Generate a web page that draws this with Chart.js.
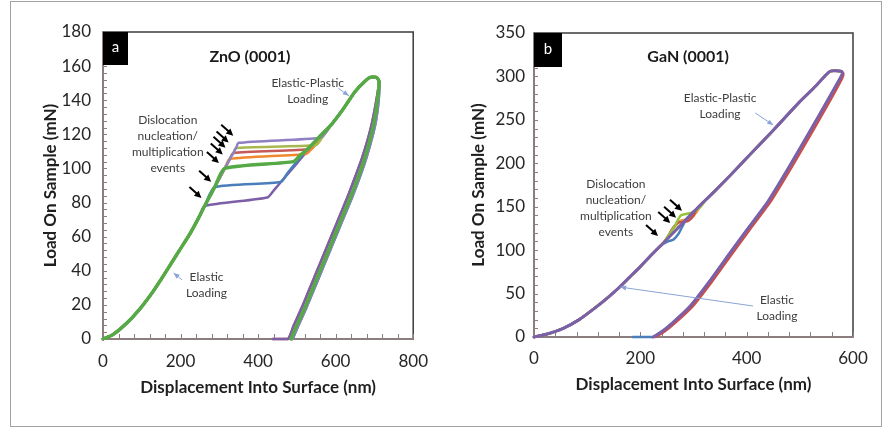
<!DOCTYPE html>
<html>
<head>
<meta charset="utf-8">
<title>Load-displacement curves, ZnO and GaN</title>
<script src="https://cdn.jsdelivr.net/npm/chart.js@4.4.1/dist/chart.umd.min.js"></script>
<style>
  body { margin: 0; background: #fff; }
  #page { position: relative; width: 891px; height: 429px; overflow: hidden; }
  #frame { position: absolute; left: 10px; top: 1px; width: 872px; height: 426px; border: 1px solid #a2a2a2; box-sizing: border-box; }
  .panel { position: absolute; top: 2px; height: 424px; }
  #panelA { left: 10px; width: 430px; }
  #panelB { left: 445px; width: 437px; }
</style>
</head>
<body>
<div id="page">
  <div id="frame"></div>
  <div class="panel" id="panelA"><canvas id="chartA"></canvas></div>
  <div class="panel" id="panelB"><canvas id="chartB"></canvas></div>
</div>
<script>
// ---------- ZnO (0001) ----------
const znXTicks = [0, 200, 400, 600, 800];
const znYTicks = [0, 20, 40, 60, 80, 100, 120, 140, 160, 180];
// shared elastic branch
const znElasticX = [0, 25, 50, 75, 100, 125, 150, 175, 200, 225, 250];
const znElasticY = [0, 2.5, 7, 12.5, 19, 26.5, 35, 44, 53, 62, 72.5];
// pop-in start and plateau end, one per test
const znPopX = [262, 288, 314, 327, 336, 343, 350];
const znPopY = [78, 89, 100, 105.5, 109, 112, 115];
const znPlateauX = [424, 458, 491, 523, 536, 549, 558];
const znPlateauY = [83, 92, 104, 108.5, 111.4, 113.7, 117.8];
// reloading until the elastic-plastic branch
const znReloadX = [[440, 470, 500, 530, 560], [475, 500, 530, 560], [510, 535, 560], [540, 565], [552, 572], [565, 578], [574]];
const znReloadY = [[87, 95, 103, 111, 118], [97, 104, 112, 119], [108, 113, 119], [112, 120], [115, 121], [118, 122], [121]];
const znPlasticX = [590, 620, 650, 675, 690, 705, 712];
const znPlasticY = [126, 135, 145, 151, 153.5, 153.5, 151];
const znUnloadX = [708, 700, 690, 675, 660, 640, 620, 600, 580, 560, 540, 520, 500, 485];
const znUnloadY = [140, 128, 118, 106, 96, 84, 73, 62, 51, 40, 29, 18, 8, 0];
const znUnloadLeftX = [705, 695, 684, 668, 652, 632, 612, 592, 572, 552, 532, 512, 492, 477, 438];
const znUnloadLeftY = [140, 128, 118, 106, 96, 84, 73, 62, 51, 40, 29, 18, 8, 0, 0];
const znUnloadRightX = [711, 704, 694, 679, 664, 644, 624, 604, 584, 564, 544, 524, 504, 489];
const znUnloadRightY = [140, 128, 118, 106, 96, 84, 73, 62, 51, 40, 29, 18, 8, 0];
const znArrowX = [259, 284, 304, 314, 321, 329, 341];
const znArrowY = [81.5, 91, 102, 107, 111, 114, 118];

// ---------- GaN (0001) ----------
const gnXTicks = [0, 200, 400, 600];
const gnYTicks = [0, 50, 100, 150, 200, 250, 300, 350];
const gnLoadX = [0, 25, 55, 85, 118, 140, 162, 180, 200, 220, 243, 270, 300, 340, 369, 400, 450, 500, 530, 557, 578];
const gnLoadY = [0, 3.5, 10, 20, 35, 46, 58, 69, 81, 94, 108, 125, 144, 168, 186, 206, 238, 271, 289, 306, 306];
const gnUnloadX = [580, 575, 550, 520, 480, 439, 400, 369, 330, 293, 260, 240, 224];
const gnUnloadY = [303, 297, 270, 238, 196, 155, 123, 97, 64, 35, 16, 6, 0];
const gnUnloadRedX = [582, 579, 555, 525, 485, 444, 405, 374, 335, 298, 265, 245, 229];
const gnUnloadRedY = [303, 297, 270, 238, 196, 155, 123, 97, 64, 35, 16, 6, 0];
const gnBlueLensX = [238, 252, 262, 272, 284];
const gnBlueLensY = [105, 110, 112, 119, 133];
const gnRedLensX = [250, 262, 272, 288, 300, 308];
const gnRedLensY = [114, 126, 132, 133, 140, 149];
const gnOrangeLensX = [250, 264, 276, 294, 306, 314];
const gnOrangeLensY = [113, 126, 134, 136, 144, 152];
const gnGreenLensX = [250, 265, 276, 296, 312, 322];
const gnGreenLensY = [114, 128, 140, 143, 149, 157];
const gnTailX = [186];
const gnTailY = [0];
const gnArrowX = [237, 260, 271, 282];
const gnArrowY = [114, 129, 135, 143];

const pts = (xs, ys) => xs.map((x, i) => ({ x, y: ys[i] }));
const FONT = 'Lato';

// ---------- ZnO datasets ----------
const znColors = ['#7D5FA8', '#4A7EBB', '#55AA46', '#F0892E', '#C65A57', '#A8B84E', '#8F80C4'];
const znUnloads = [
  pts(znUnloadLeftX, znUnloadLeftY), pts(znUnloadRightX, znUnloadRightY), pts(znUnloadX, znUnloadY),
  pts(znUnloadX, znUnloadY), pts(znUnloadLeftX, znUnloadLeftY), pts(znUnloadX, znUnloadY),
  pts(znUnloadRightX, znUnloadRightY)
];
const znDrawOrder = [5, 3, 0, 4, 6, 2, 1];
const znDatasets = znColors.map((color, k) => ({
  data: [
    ...pts(znElasticX, znElasticY),
    ...pts(znPopX.slice(0, k + 1), znPopY.slice(0, k + 1)),
    { x: znPlateauX[k], y: znPlateauY[k] },
    ...pts(znReloadX[k], znReloadY[k]),
    ...pts(znPlasticX, znPlasticY),
    ...znUnloads[k]
  ],
  borderColor: color,
  borderWidth: k === 2 ? 3.5 : 2.5,
  order: znDrawOrder[k]
}));

// ---------- GaN datasets ----------
function withLens(lx, ly) {
  const load = pts(gnLoadX, gnLoadY);
  return [
    ...load.filter(p => p.x < lx[0]),
    ...pts(lx, ly),
    ...load.filter(p => p.x > lx[lx.length - 1])
  ];
}
const gnDatasets = [
  { data: [...pts(gnLoadX, gnLoadY), ...pts(gnUnloadX, gnUnloadY)], borderColor: '#7B60A9', borderWidth: 3, order: 0 },
  { data: [...withLens(gnRedLensX, gnRedLensY), ...pts(gnUnloadRedX, gnUnloadRedY)], borderColor: '#C8504B', borderWidth: 2.5, order: 2 },
  { data: [...withLens(gnBlueLensX, gnBlueLensY), ...pts(gnUnloadX, gnUnloadY), ...pts(gnTailX, gnTailY)], borderColor: '#4A7EBB', borderWidth: 2.5, order: 3 },
  { data: withLens(gnOrangeLensX, gnOrangeLensY), borderColor: '#F39A3C', borderWidth: 2.5, order: 4 },
  { data: withLens(gnGreenLensX, gnGreenLensY), borderColor: '#94C43C', borderWidth: 2.5, order: 1 }
];

// ---------- decorations: frame, minor ticks, labels, arrows ----------
function arrowHead(ctx, x1, y1, x2, y2, len, half) {
  const a = Math.atan2(y2 - y1, x2 - x1);
  ctx.beginPath();
  ctx.moveTo(x2, y2);
  ctx.lineTo(x2 - len * Math.cos(a) + half * Math.sin(a), y2 - len * Math.sin(a) - half * Math.cos(a));
  ctx.lineTo(x2 - len * Math.cos(a) - half * Math.sin(a), y2 - len * Math.sin(a) + half * Math.cos(a));
  ctx.closePath();
  ctx.fill();
}

const panelDecor = {
  id: 'panelDecor',
  beforeDatasetsDraw(chart, args, o) {
    const { ctx, chartArea: a, scales: { x, y } } = chart;
    ctx.save();
    ctx.strokeStyle = '#3b3b3b';
    ctx.lineWidth = 1.5;
    ctx.strokeRect(a.left, a.top, a.right - a.left, a.bottom - a.top);
    ctx.strokeStyle = '#8c7e7e';
    ctx.lineWidth = 2;
    ctx.beginPath();
    ctx.moveTo(a.left, a.top);
    ctx.lineTo(a.left, a.bottom);
    ctx.lineTo(a.right, a.bottom);
    ctx.stroke();
    ctx.lineWidth = 1;
    ctx.beginPath();
    for (let v = x.min; v <= x.max; v += o.xMinor) {
      const px = Math.round(x.getPixelForValue(v)) + 0.5;
      ctx.moveTo(px, a.bottom);
      ctx.lineTo(px, a.bottom - 5);
    }
    for (let v = y.min; v <= y.max; v += o.yMinor) {
      const py = Math.round(y.getPixelForValue(v)) + 0.5;
      ctx.moveTo(a.left, py);
      ctx.lineTo(a.left + 4, py);
    }
    ctx.stroke();
    ctx.restore();
  },
  afterDatasetsDraw(chart, args, o) {
    const { ctx, chartArea: a, scales: { x, y } } = chart;
    ctx.save();
    // panel letter
    ctx.fillStyle = '#000';
    ctx.fillRect(a.left, a.top, o.boxW, o.boxH);
    ctx.fillStyle = '#fff';
    ctx.font = `15px ${FONT}`;
    ctx.textAlign = 'center';
    ctx.textBaseline = 'middle';
    ctx.fillText(o.letter, a.left + o.boxW / 2, a.top + o.boxH / 2 - 1);
    // title
    ctx.fillStyle = '#1a1a1a';
    ctx.font = `bold 16px ${FONT}`;
    ctx.fillText(o.title.text, x.getPixelForValue(o.title.x), y.getPixelForValue(o.title.y));
    // notes
    ctx.fillStyle = '#3d3d3d';
    ctx.font = `12px ${FONT}`;
    o.notes.forEach(n => {
      const px = x.getPixelForValue(n.x), py = y.getPixelForValue(n.y);
      n.lines.forEach((t, i) => ctx.fillText(t, px, py + i * 16));
    });
    // thin pointers
    ctx.strokeStyle = '#8aa4d6';
    ctx.fillStyle = '#8aa4d6';
    ctx.lineWidth = 1;
    o.pointers.forEach(p => {
      const x1 = x.getPixelForValue(p.from[0]), y1 = y.getPixelForValue(p.from[1]);
      const x2 = x.getPixelForValue(p.to[0]), y2 = y.getPixelForValue(p.to[1]);
      ctx.beginPath(); ctx.moveTo(x1, y1); ctx.lineTo(x2, y2); ctx.stroke();
      arrowHead(ctx, x1, y1, x2, y2, 6, 2.5);
    });
    // black event arrows
    ctx.strokeStyle = '#000';
    ctx.fillStyle = '#000';
    ctx.lineWidth = 2;
    o.arrowX.forEach((vx, i) => {
      const x2 = x.getPixelForValue(vx) - 2, y2 = y.getPixelForValue(o.arrowY[i]) - 2;
      const x1 = x2 - 12, y1 = y2 - 11;
      ctx.beginPath(); ctx.moveTo(x1, y1); ctx.lineTo(x2 - 3, y2 - 3); ctx.stroke();
      arrowHead(ctx, x1, y1, x2, y2, 7, 3.5);
    });
    ctx.restore();
  }
};

function makeChart(id, cfg) {
  const axisTitle = (text, pad) => ({ display: true, text, color: '#1f1f1f', font: { family: FONT, size: 17, weight: 'bold' }, padding: pad });
  return new Chart(document.getElementById(id), {
    type: 'line',
    data: { datasets: cfg.datasets },
    plugins: [panelDecor],
    options: {
      responsive: true,
      maintainAspectRatio: false,
      animation: false,
      events: [],
      layout: { padding: cfg.padding },
      elements: { point: { radius: 0 }, line: { tension: 0.2, fill: false, borderCapStyle: 'round', borderJoinStyle: 'round' } },
      datasets: { line: { clip: 8 } },
      plugins: {
        legend: { display: false },
        tooltip: { enabled: false },
        panelDecor: cfg.decor
      },
      scales: {
        x: {
          type: 'linear', min: cfg.xTicks[0], max: cfg.xTicks[cfg.xTicks.length - 1],
          afterBuildTicks: s => { s.ticks = cfg.xTicks.map(v => ({ value: v })); },
          afterFit: s => { s.height = cfg.xHeight; },
          grid: { display: false, drawTicks: false },
          border: { display: false },
          ticks: { color: '#262626', padding: cfg.xTickPad, font: { family: FONT, size: 17 } },
          title: axisTitle('Displacement Into Surface (nm)', { top: 0, bottom: cfg.xTitlePad })
        },
        y: {
          type: 'linear', min: cfg.yTicks[0], max: cfg.yTicks[cfg.yTicks.length - 1],
          afterBuildTicks: s => { s.ticks = cfg.yTicks.map(v => ({ value: v })); },
          afterFit: s => { s.width = cfg.yWidth; },
          grid: { display: false, drawTicks: false },
          border: { display: false },
          ticks: { color: '#262626', padding: cfg.yTickPad, font: { family: FONT, size: 17 } },
          title: axisTitle('Load On Sample (mN)', { top: cfg.yTitlePad, bottom: 0 })
        }
      }
    }
  });
}

makeChart('chartA', {
  datasets: znDatasets, xTicks: znXTicks, yTicks: znYTicks,
  padding: { top: 30, right: 16, bottom: 0, left: 0 },
  xHeight: 87, yWidth: 93, xTickPad: 12, yTickPad: 12, xTitlePad: 28, yTitlePad: 30,
  decor: {
    xMinor: 40, yMinor: 4, letter: 'a', boxW: 25, boxH: 33,
    title: { text: 'ZnO (0001)', x: 379, y: 165.3 },
    notes: [
      { x: 167, y: 128.4, lines: ['Dislocation', 'nucleation/', 'multiplication', 'events'] },
      { x: 528, y: 150, lines: ['Elastic-Plastic', 'Loading'] },
      { x: 267, y: 36.3, lines: ['Elastic', 'Loading'] }
    ],
    pointers: [
      { from: [607, 147], to: [634, 142.6] },
      { from: [204, 34.6], to: [182, 38.7] }
    ],
    arrowX: znArrowX, arrowY: znArrowY
  }
});

makeChart('chartB', {
  datasets: gnDatasets, xTicks: gnXTicks, yTicks: gnYTicks,
  padding: { top: 31, right: 29, bottom: 0, left: 0 },
  xHeight: 89, yWidth: 89, xTickPad: 11, yTickPad: 9, xTitlePad: 31, yTitlePad: 23,
  decor: {
    xMinor: 40, yMinor: 10, letter: 'b', boxW: 28, boxH: 34,
    title: { text: 'GaN (0001)', x: 290, y: 322 },
    notes: [
      { x: 154, y: 176, lines: ['Dislocation', 'nucleation/', 'multiplication', 'events'] },
      { x: 350, y: 275, lines: ['Elastic-Plastic', 'Loading'] },
      { x: 457, y: 42.6, lines: ['Elastic', 'Loading'] }
    ],
    pointers: [
      { from: [416, 258], to: [450, 244] },
      { from: [412, 35.7], to: [162, 57.5] }
    ],
    arrowX: gnArrowX, arrowY: gnArrowY
  }
});
</script>
</body>
</html>
